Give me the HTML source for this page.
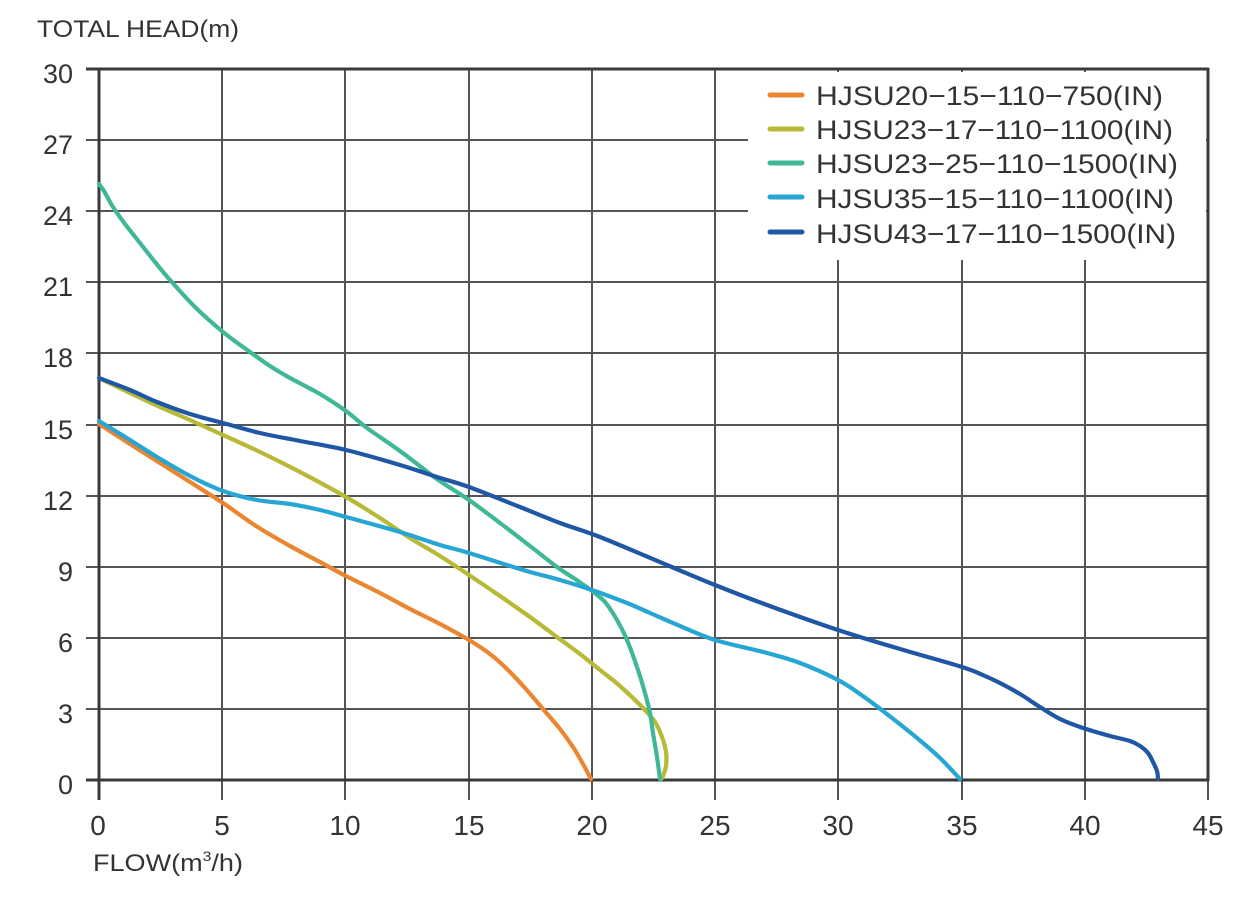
<!DOCTYPE html>
<html>
<head>
<meta charset="utf-8">
<style>
html,body{margin:0;padding:0;background:#fff;}
svg{display:block;}
text{font-family:"Liberation Sans",Arial,sans-serif;fill:#333;}
</style>
</head>
<body>
<svg id="chart" width="1246" height="916" viewBox="0 0 1246 916" xmlns="http://www.w3.org/2000/svg">
<rect x="0" y="0" width="1246" height="916" fill="#fff"/>
<!-- axis title -->
<text x="37" y="37" font-size="24" textLength="202" lengthAdjust="spacingAndGlyphs">TOTAL HEAD(m)</text>
<text x="93" y="871" font-size="24" textLength="150" lengthAdjust="spacingAndGlyphs">FLOW(m<tspan font-size="14" dy="-10">3</tspan><tspan dy="10">/h)</tspan></text>

<!-- grid -->
<g stroke="#555" stroke-width="2" fill="none">
  <line x1="86" y1="140" x2="1208" y2="140"/>
  <line x1="86" y1="211" x2="1208" y2="211"/>
  <line x1="86" y1="282" x2="1208" y2="282"/>
  <line x1="86" y1="353" x2="1208" y2="353"/>
  <line x1="86" y1="425" x2="1208" y2="425"/>
  <line x1="86" y1="496" x2="1208" y2="496"/>
  <line x1="86" y1="567" x2="1208" y2="567"/>
  <line x1="86" y1="638" x2="1208" y2="638"/>
  <line x1="86" y1="709" x2="1208" y2="709"/>
  <line x1="222" y1="69" x2="222" y2="800"/>
  <line x1="345" y1="69" x2="345" y2="800"/>
  <line x1="469" y1="69" x2="469" y2="800"/>
  <line x1="592" y1="69" x2="592" y2="800"/>
  <line x1="715" y1="69" x2="715" y2="800"/>
  <line x1="838" y1="69" x2="838" y2="800"/>
  <line x1="962" y1="69" x2="962" y2="800"/>
  <line x1="1085" y1="69" x2="1085" y2="800"/>
  <line x1="1208" y1="69" x2="1208" y2="800"/>
</g>
<!-- legend box background -->
<rect x="748" y="72" width="458" height="188" fill="#fff"/>
<!-- axes frame -->
<g stroke="#3a3a3a" stroke-width="3" fill="none">
  <line x1="86" y1="69" x2="1209" y2="69"/>
  <line x1="86" y1="780" x2="1209" y2="780"/>
  <line x1="99" y1="68" x2="99" y2="800"/>
  <line x1="1208" y1="68" x2="1208" y2="781"/>
</g>

<!-- y tick labels -->
<g font-size="27" text-anchor="end">
  <text x="73" y="83">30</text>
  <text x="73" y="154">27</text>
  <text x="73" y="225">24</text>
  <text x="73" y="296">21</text>
  <text x="73" y="367">18</text>
  <text x="73" y="439">15</text>
  <text x="73" y="510">12</text>
  <text x="73" y="581">9</text>
  <text x="73" y="652">6</text>
  <text x="73" y="723">3</text>
  <text x="73" y="794">0</text>
</g>
<!-- x tick labels -->
<g font-size="28" text-anchor="middle">
  <text x="98" y="835">0</text>
  <text x="222" y="835">5</text>
  <text x="345" y="835">10</text>
  <text x="469" y="835">15</text>
  <text x="592" y="835">20</text>
  <text x="715" y="835">25</text>
  <text x="838" y="835">30</text>
  <text x="962" y="835">35</text>
  <text x="1085" y="835">40</text>
  <text x="1208" y="835">45</text>
</g>

<!-- curves -->
<g id="curves" fill="none" stroke-width="4.2" stroke-linejoin="round" stroke-linecap="round">
  <polyline stroke="#EC8530" points="99,424 130,444 160,463 190,482 223,503 256,526 290,546 320,562 346,576 380,593 410,609 440,624 469,640 490,654 507,669 525,688 543,709 560,729 573,747 583,764 591,779"/>
  <polyline stroke="#B6BA36" points="99,378 130,393 160,407 190,420 223,435 260,452 300,472 346,497 380,518 410,538 440,556 469,575 500,596 530,617 557,637 580,654 600,670 620,686 643,708 655,722 662,737 666,752 666,766 663,776 661,779"/>
  <polyline stroke="#40B898" points="99,184 104,191 113,207 125,224 140,243 155,262 170,280 195,307 223,332 250,352 270,366 290,378 320,394 346,411 367,428 400,451 437,479 469,500 500,523 530,546 557,567 578,581 592,591 605,602 617,620 627,640 637,667 645,693 650,713 653,733 657,757 660,779"/>
  <polyline stroke="#27A6D4" points="99,421 130,440 157,457 190,476 223,491 257,500 290,504 320,510 346,517 400,532 440,545 469,553 523,570 560,580 592,590 627,603 650,613 680,626 715,640 767,653 800,663 838,680 860,694 883,711 917,738 940,758 960,779"/>
  <polyline stroke="#2057A5" points="99,378 130,390 157,402 190,414 223,423 260,433 300,441 346,450 400,465 437,477 469,487 520,507 560,523 600,537 667,565 715,585 767,605 838,630 900,649 962,667 985,676 1000,683 1020,694 1040,707 1060,719 1083,728 1110,736 1130,741 1140,746 1148,753 1153,762 1157,771 1158,779"/>
</g>

<!-- legend -->
<g stroke-width="5" stroke-linecap="round">
  <line x1="770" y1="95" x2="802" y2="95" stroke="#EC8530"/>
  <line x1="770" y1="129" x2="802" y2="129" stroke="#B6BA36"/>
  <line x1="770" y1="163" x2="802" y2="163" stroke="#40B898"/>
  <line x1="770" y1="197" x2="802" y2="197" stroke="#27A6D4"/>
  <line x1="770" y1="232" x2="802" y2="232" stroke="#2057A5"/>
</g>
<g font-size="27">
  <text x="816" y="105" textLength="347" lengthAdjust="spacingAndGlyphs">HJSU20−15−110−750(IN)</text>
  <text x="816" y="139" textLength="357" lengthAdjust="spacingAndGlyphs">HJSU23−17−110−1100(IN)</text>
  <text x="816" y="173" textLength="362" lengthAdjust="spacingAndGlyphs">HJSU23−25−110−1500(IN)</text>
  <text x="816" y="208" textLength="358" lengthAdjust="spacingAndGlyphs">HJSU35−15−110−1100(IN)</text>
  <text x="816" y="243" textLength="360" lengthAdjust="spacingAndGlyphs">HJSU43−17−110−1500(IN)</text>
</g>
</svg>
<script>
(function(){
  var ns="http://www.w3.org/2000/svg";
  var g=document.getElementById("curves");
  var pls=g.querySelectorAll("polyline");
  for(var k=0;k<pls.length;k++){
    var pl=pls[k];
    var pts=pl.getAttribute("points").trim().split(/\s+/).map(function(s){var a=s.split(",");return [parseFloat(a[0]),parseFloat(a[1])];});
    var d="M"+pts[0][0]+","+pts[0][1];
    for(var i=0;i<pts.length-1;i++){
      var p0=pts[i>0?i-1:i],p1=pts[i],p2=pts[i+1],p3=pts[i+2<pts.length?i+2:i+1];
      var t=1/6;
      var c1x=p1[0]+(p2[0]-p0[0])*t,c1y=p1[1]+(p2[1]-p0[1])*t;
      var c2x=p2[0]-(p3[0]-p1[0])*t,c2y=p2[1]-(p3[1]-p1[1])*t;
      d+=" C"+c1x.toFixed(2)+","+c1y.toFixed(2)+" "+c2x.toFixed(2)+","+c2y.toFixed(2)+" "+p2[0]+","+p2[1];
    }
    var p=document.createElementNS(ns,"path");
    p.setAttribute("d",d);
    p.setAttribute("stroke",pl.getAttribute("stroke"));
    g.replaceChild(p,pl);
  }
})();
</script>
</body>
</html>
